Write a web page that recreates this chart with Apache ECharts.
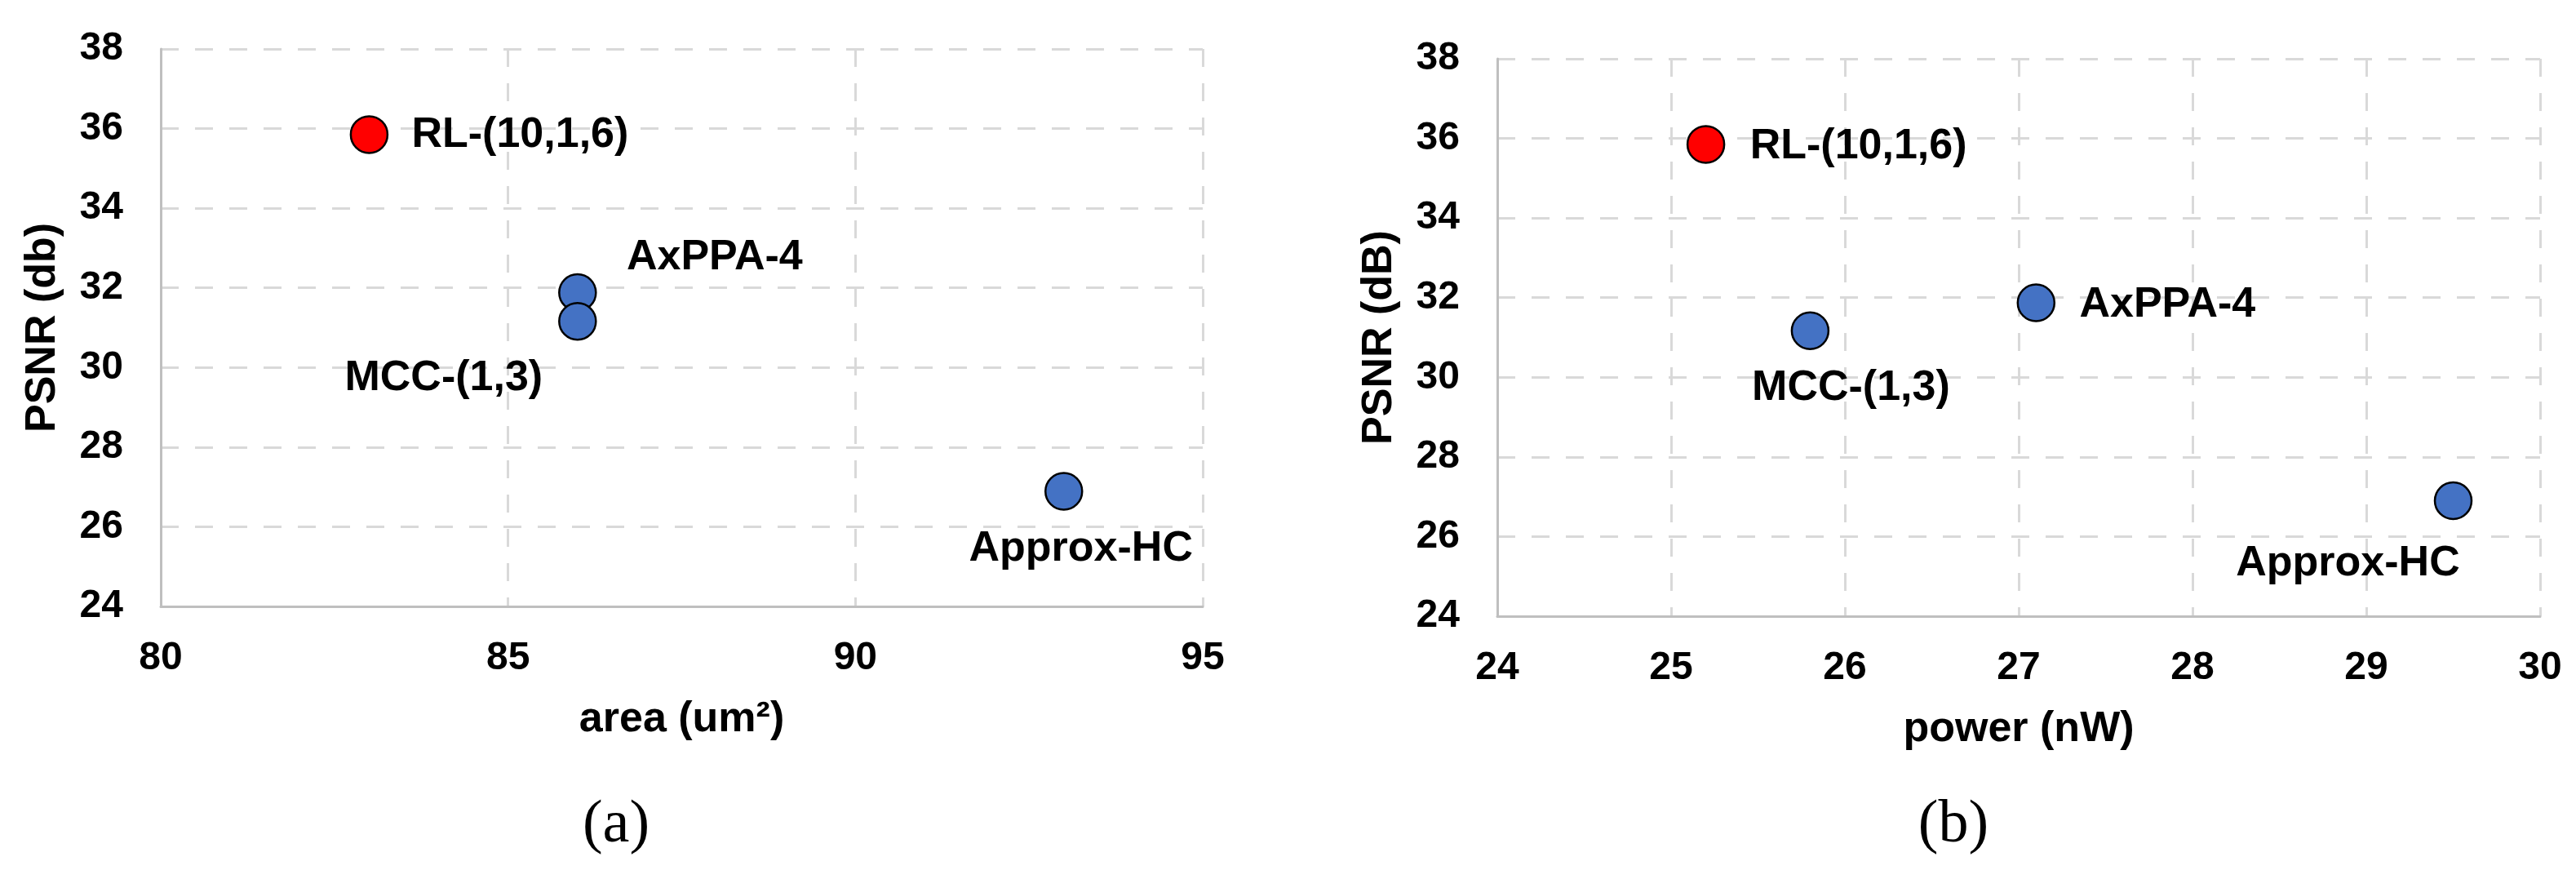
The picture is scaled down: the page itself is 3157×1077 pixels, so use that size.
<!DOCTYPE html>
<html>
<head>
<meta charset="utf-8">
<script src="https://cdn.jsdelivr.net/npm/echarts@6/dist/echarts.min.js"></script>
<style>
html,body{margin:0;padding:0;background:#ffffff;}
#chart{width:3157px;height:1077px;}
</style>
</head>
<body>
<div id="chart"></div>
<script>
// ---------------- data ----------------
const designs = ['RL-(10,1,6)', 'AxPPA-4', 'MCC-(1,3)', 'Approx-HC'];
const psnrA = [35.85, 31.88, 31.16, 26.89];
const areaUm2 = [83, 86, 86, 93];
const psnrB = [35.85, 31.87, 31.17, 26.90];
const powerNW = [25.2, 27.1, 25.8, 29.5];
const areaTicks = [80, 85, 90, 95];
const powerTicks = [24, 25, 26, 27, 28, 29, 30];
const psnrTicks = [24, 26, 28, 30, 32, 34, 36, 38];
const highlighted = 'RL-(10,1,6)';

// ---------------- styling ----------------
const FONT = 'Liberation Sans, Arial, sans-serif';
// label offsets (text centre relative to marker centre), style only
const labelOffsetA = {'RL-(10,1,6)': [185, 1], 'AxPPA-4': [168, -43], 'MCC-(1,3)': [-164, 70], 'Approx-HC': [21, 71]};
const labelOffsetB = {'RL-(10,1,6)': [187, 3], 'AxPPA-4': [161, 3], 'MCC-(1,3)': [50, 70], 'Approx-HC': [-129, 77]};

function buildData(xs, ys, offsets) {
  return designs.map((n, i) => ({
    name: n,
    value: [xs[i], ys[i]],
    itemStyle: {color: n === highlighted ? '#FF0000' : '#4472C4'},
    label: {offset: offsets[n]}
  }));
}

const gridLine = {show: true, lineStyle: {color: '#D9D9D9', width: 3, type: [22, 20]}};
const axisLine = {show: true, onZero: false, lineStyle: {color: '#BFBFBF', width: 3}};
const tickLabel = {fontSize: 48, fontWeight: 'bold', color: '#000', fontFamily: FONT};
const nameStyle = {fontSize: 52, fontWeight: 'bold', color: '#000', fontFamily: FONT};

function xAxis(gi, ticks, name) {
  return {
    type: 'value', gridIndex: gi,
    min: ticks[0], max: ticks[ticks.length - 1], interval: ticks[1] - ticks[0],
    axisLine: axisLine, axisTick: {show: false},
    splitLine: gridLine,
    axisLabel: Object.assign({margin: 40}, tickLabel),
    name: name, nameLocation: 'middle', nameGap: 113,
    nameTextStyle: nameStyle
  };
}
function yAxis(gi, name) {
  return {
    type: 'value', gridIndex: gi,
    min: psnrTicks[0], max: psnrTicks[psnrTicks.length - 1], interval: psnrTicks[1] - psnrTicks[0],
    axisLine: axisLine, axisTick: {show: false},
    splitLine: gridLine,
    axisLabel: Object.assign({margin: 46}, tickLabel),
    name: name, nameLocation: 'middle', nameGap: 118, nameRotate: 90,
    nameTextStyle: nameStyle
  };
}
const pointLabel = {
  show: true, position: 'inside', formatter: '{b}',
  fontSize: 52, fontWeight: 'bold', color: '#000', fontFamily: FONT,
  textBorderWidth: 0, align: 'center', verticalAlign: 'middle'
};
function series(gi, data) {
  return {
    type: 'scatter', xAxisIndex: gi, yAxisIndex: gi,
    symbol: 'circle', symbolSize: 45,
    itemStyle: {borderColor: '#000', borderWidth: 2.5, opacity: 1},
    label: pointLabel,
    emphasis: {disabled: true},
    data: data
  };
}

const chart = echarts.init(document.getElementById('chart'), null, {renderer: 'canvas'});
chart.setOption({
  animation: false,
  backgroundColor: '#ffffff',
  grid: [
    {left: 197, top: 60, width: 1277, height: 683},
    {left: 1835, top: 72, width: 1278, height: 683}
  ],
  xAxis: [xAxis(0, areaTicks, 'area (um²)'), xAxis(1, powerTicks, 'power (nW)')],
  yAxis: [yAxis(0, 'PSNR (db)'), yAxis(1, 'PSNR (dB)')],
  series: [
    series(0, buildData(areaUm2, psnrA, labelOffsetA)),
    series(1, buildData(powerNW, psnrB, labelOffsetB))
  ],
  graphic: [
    {type: 'text', x: 755, y: 1012, style: {text: '(a)', fill: '#000', font: '74px "Liberation Serif", serif', textAlign: 'center', textVerticalAlign: 'middle'}},
    {type: 'text', x: 2394, y: 1012, style: {text: '(b)', fill: '#000', font: '74px "Liberation Serif", serif', textAlign: 'center', textVerticalAlign: 'middle'}}
  ]
});
</script>
</body>
</html>
